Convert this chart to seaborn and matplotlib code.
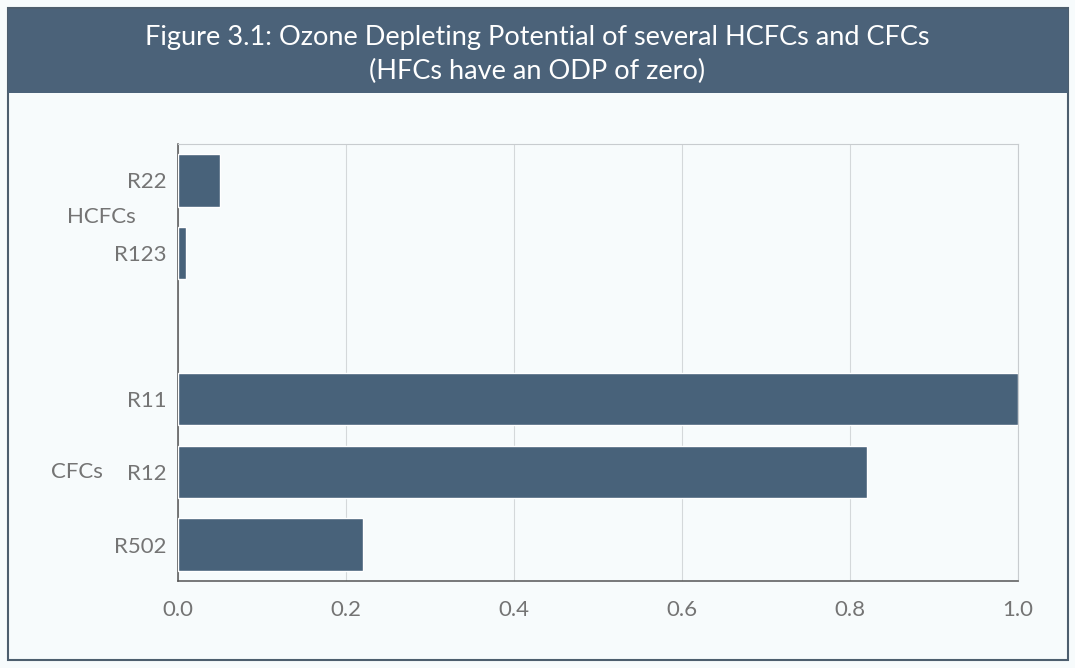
import matplotlib
matplotlib.use("Agg")
import matplotlib.pyplot as plt
import seaborn as sns
import pandas as pd
from matplotlib.patches import Rectangle

# 数据
refrigerants = ["R22", "R123", "R11", "R12", "R502"]
odp_values = [0.05, 0.01, 1.0, 0.82, 0.22]
groups = ["HCFCs", "HCFCs", "CFCs", "CFCs", "CFCs"]
slot_order = ["R22", "R123", "", "R11", "R12", "R502"]
x_ticks = [0.0, 0.2, 0.4, 0.6, 0.8, 1.0]
title_lines = ["Figure 3.1: Ozone Depleting Potential of several HCFCs and CFCs",
               "(HFCs have an ODP of zero)"]

BAR_COLOR = "#48627a"
BAND_COLOR = "#4b6279"
TEXT_GREY = "#747474"
BG = "#f7fbfc"

sns.set_theme(style="white")
plt.rcParams["font.family"] = ["Lato", "DejaVu Sans"]

df = pd.DataFrame({"name": refrigerants, "odp": odp_values, "group": groups})

fig = plt.figure(figsize=(10.75, 6.68), dpi=100)
fig.patch.set_facecolor(BG)

# outer frame + title band
fig.patches.append(Rectangle((0.0074, 0.012), 0.9861, 0.976, transform=fig.transFigure,
                             fill=False, edgecolor="#4d5e6e", linewidth=1.5, zorder=0))
fig.patches.append(Rectangle((0.0074, 0.861), 0.9861, 0.125, transform=fig.transFigure,
                             facecolor=BAND_COLOR, edgecolor="none", zorder=1))
fig.text(0.5, 1 - 38 / 668, title_lines[0], ha="center", va="center",
         color="white", fontsize=19.5)
fig.text(0.5, 1 - 71 / 668, title_lines[1], ha="center", va="center",
         color="white", fontsize=19.5)

ax = fig.add_axes([178 / 1075, 1 - 581 / 668, 840 / 1075, 437 / 668])
ax.set_facecolor(BG)

sns.barplot(data=df, x="odp", y="name", order=slot_order, color=BAR_COLOR,
            saturation=1, width=0.72, ax=ax, zorder=3)

ax.set_xlim(0, 1.0)
ax.set_xticks(x_ticks)
ax.set_xticklabels([f"{t:.1f}" for t in x_ticks])
ax.set_xlabel("")
ax.set_ylabel("")
ax.grid(axis="x", color="#d4d8da", linewidth=0.8, zorder=0)
ax.grid(axis="y", visible=False)

ax.tick_params(axis="x", direction="in", length=8, width=1, color="#555555",
               labelsize=16, labelcolor=TEXT_GREY, pad=14)
ax.tick_params(axis="y", length=0, labelsize=16, labelcolor=TEXT_GREY, pad=8)

for side in ["left", "bottom"]:
    ax.spines[side].set_color("#555555")
    ax.spines[side].set_linewidth(1.1)
for side in ["top", "right"]:
    ax.spines[side].set_color("#c8cccf")
    ax.spines[side].set_linewidth(0.8)

# group labels to the left of the tick labels
fig.text(101 / 1075, 1 - 217 / 668, "HCFCs", ha="center", va="center",
         color=TEXT_GREY, fontsize=16)
fig.text(77 / 1075, 1 - 472 / 668, "CFCs", ha="center", va="center",
         color=TEXT_GREY, fontsize=16)

fig.savefig("out.png", dpi=100, facecolor=BG)
